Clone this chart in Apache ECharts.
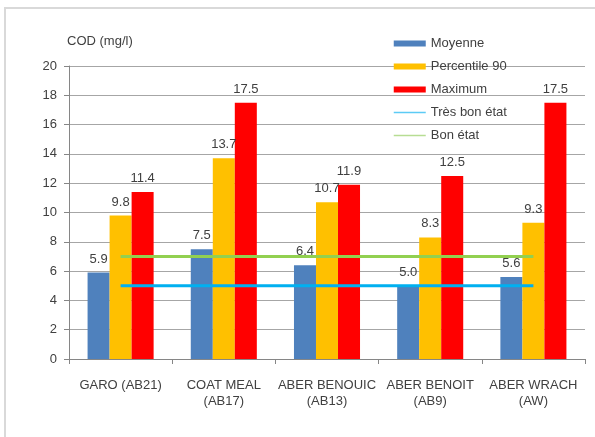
<!DOCTYPE html>
<html>
<head>
<meta charset="utf-8">
<script src="https://cdn.jsdelivr.net/npm/echarts@6/dist/echarts.min.js"></script>
<style>
  html, body { margin: 0; padding: 0; background: #fff; }
  #chart { width: 595px; height: 437px; }
</style>
</head>
<body>
<div id="chart"></div>
<script>
// COD concentrations (mg/l) by station
const stations = ['GARO (AB21)', 'COAT MEAL\n(AB17)', 'ABER BENOUIC\n(AB13)', 'ABER BENOIT\n(AB9)', 'ABER WRACH\n(AW)'];
const moyenne = [5.9, 7.5, 6.4, 5.0, 5.6];
const percentile90 = [9.8, 13.7, 10.7, 8.3, 9.3];
const maximum = [11.4, 17.5, 11.9, 12.5, 17.5];
const tresBonEtat = [5, 5, 5, 5, 5];
const bonEtat = [7, 7, 7, 7, 7];
const yTicks = { min: 0, max: 20, interval: 2 };

const font = 'Liberation Sans, Arial, sans-serif';
const textColor = '#404040';

const barLabel = {
  show: true,
  position: 'top',
  distance: 7,
  color: textColor,
  fontSize: 13,
  fontFamily: font,
  formatter: p => p.value.toFixed(1)
};

function barSeries(name, data, color) {
  return {
    name, type: 'bar', data,
    barGap: '0%', barCategoryGap: '36%',
    itemStyle: { color },
    label: barLabel
  };
}

function lineSeries(name, data, color) {
  return {
    name, type: 'line', data,
    symbol: 'none', showSymbol: false,
    lineStyle: { color, width: 3 },
    itemStyle: { color },
    z: 5
  };
}

// legend entries for the threshold lines: plain line, no marker
const lineLegend = (name, color) => ({
  name,
  lineStyle: { width: 1.5, color },
  itemStyle: { opacity: 0 }
});

const chart = echarts.init(document.getElementById('chart'), null, { renderer: 'canvas' });
chart.setOption({
  animation: false,
  textStyle: { fontFamily: font },
  grid: { left: 69, right: 10, top: 66, bottom: 78 },
  graphic: [{
    type: 'rect',
    shape: { x: 5, y: 8, width: 620, height: 460 },
    style: { fill: 'none', stroke: '#d9d9d9', lineWidth: 2 },
    silent: true
  }],
  legend: {
    orient: 'vertical',
    left: 393,
    top: 37,
    padding: 0,
    itemWidth: 32,
    itemHeight: 6,
    itemGap: 10,
    textStyle: { color: textColor, fontSize: 13, fontFamily: font },
    data: [
      { name: 'Moyenne', icon: 'rect' },
      { name: 'Percentile 90', icon: 'rect' },
      { name: 'Maximum', icon: 'rect' },
      lineLegend('Très bon état', '#5ccbf5'),
      lineLegend('Bon état', '#b7dd93')
    ]
  },
  xAxis: {
    type: 'category',
    data: stations,
    axisLine: { lineStyle: { color: '#868686', width: 1 } },
    axisTick: { show: true, length: 5, lineStyle: { color: '#868686' } },
    axisLabel: {
      color: textColor, fontSize: 13, fontFamily: font,
      margin: 18, lineHeight: 16, interval: 0
    }
  },
  yAxis: {
    type: 'value',
    min: yTicks.min, max: yTicks.max, interval: yTicks.interval,
    name: 'COD (mg/l)',
    nameLocation: 'end',
    nameGap: 18,
    nameTextStyle: { color: textColor, fontSize: 13, fontFamily: font, align: 'left', padding: [0, 0, 0, -2] },
    axisLine: { show: true, lineStyle: { color: '#868686', width: 1 } },
    axisTick: { show: true, length: 5, lineStyle: { color: '#868686' } },
    splitLine: { lineStyle: { color: '#a6a6a6', width: 1 } },
    axisLabel: { color: textColor, fontSize: 13, fontFamily: font, margin: 12 }
  },
  series: [
    barSeries('Moyenne', moyenne, '#4f81bd'),
    barSeries('Percentile 90', percentile90, '#ffc000'),
    barSeries('Maximum', maximum, '#ff0000'),
    lineSeries('Très bon état', tresBonEtat, '#00b0f0'),
    lineSeries('Bon état', bonEtat, '#92d050')
  ]
});
</script>
</body>
</html>
